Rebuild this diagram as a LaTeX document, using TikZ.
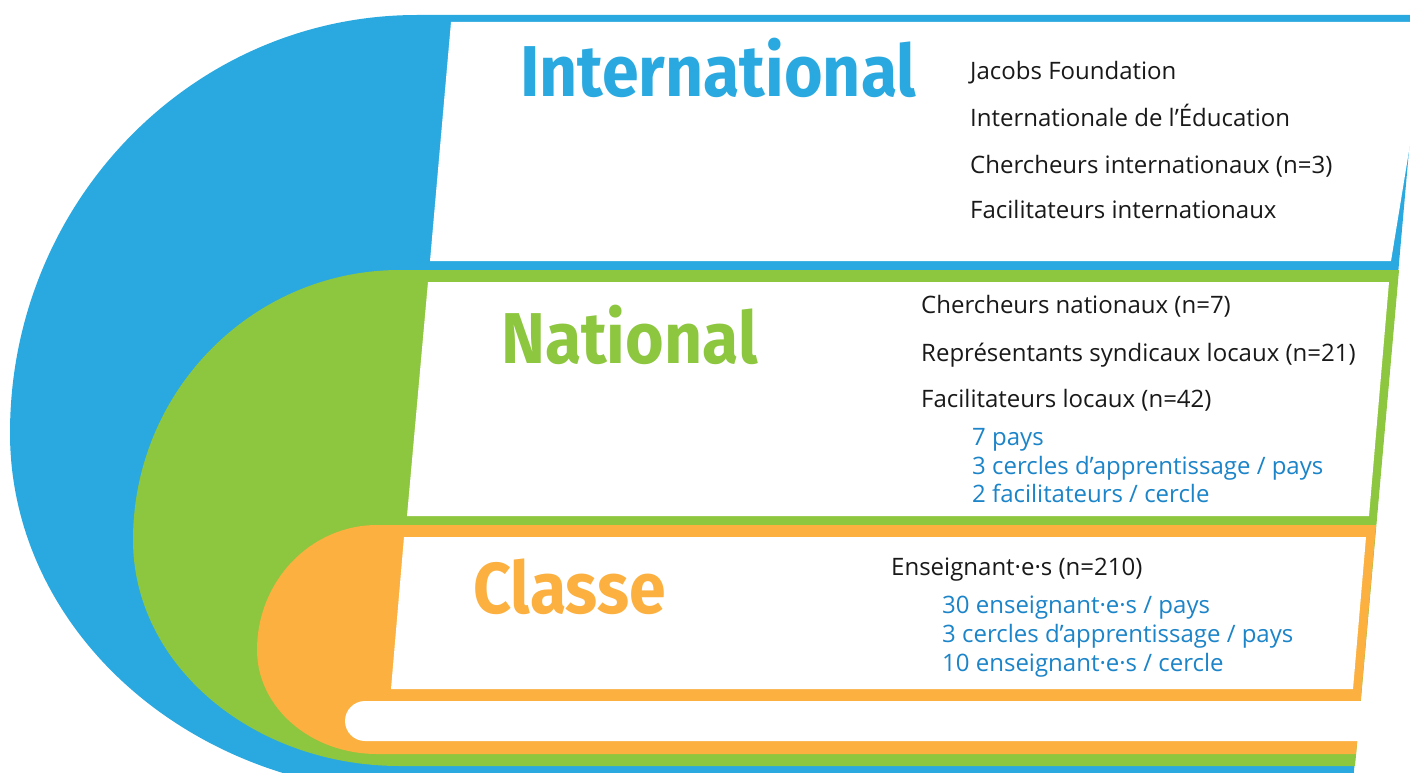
\documentclass[tikz,border=0pt]{standalone}
\usepackage{graphicx}
\usepackage{fontspec}
\setmainfont{Open Sans}
\newfontfamily\titlefont{Fira Sans}
\definecolor{intlblue}{RGB}{41,169,224}
\definecolor{natgreen}{RGB}{141,198,63}
\definecolor{classorange}{RGB}{251,176,64}
\definecolor{subblue}{RGB}{28,132,200}
\newcommand{\leveltext}[1]{\scalebox{0.92}[1]{#1}}

\begin{document}
\begin{tikzpicture}[x=1pt, y=-1pt,
    level/.style={font=\titlefont\bfseries\fontsize{72}{72}\selectfont, anchor=base west, inner sep=0},
    item/.style={font=\fontsize{24}{28}\selectfont, anchor=base west, inner sep=0, text=black!90},
    subitem/.style={item, text=subblue}]
      \useasboundingbox (0,0) rectangle (1410,773);
      \clip (0,0) rectangle (1410,773);

      % coloured bands, outer to inner
      \fill[intlblue] (1421,15) -- (417,15) arc[start angle=270, end angle=180, x radius=407, y radius=418] arc[start angle=180, end angle=90, x radius=407, y radius=360] -- (1352,793) -- cycle;
      \fill[natgreen] (1399,270) -- (400,270) arc[start angle=270, end angle=180, x radius=267, y radius=270] arc[start angle=180, end angle=90, x radius=267, y radius=226] -- (1355,766) -- cycle;
      \fill[classorange] (1376,525) -- (377,525) arc[start angle=270, end angle=180, x radius=120, y radius=125] arc[start angle=180, end angle=90, x radius=120, y radius=104] -- (1356,754) -- cycle;

      % white panels
      \fill[white] (451,22) -- (1430,22) -- (1391,261) -- (430,261) -- cycle;
      \fill[white] (428,282) -- (1389,282) -- (1369,516) -- (407,516) -- cycle;
      \fill[white] (404,537) -- (1366,537) -- (1353,689) -- (391,689) -- cycle;
      \fill[white, rounded corners=20pt] (345,701) rectangle (1480,741);

      \node[level, text=intlblue] (intl) at (520,97) {\leveltext{International}};
      \node[level, text=natgreen] (natl) at (501,363) {\leveltext{National}};
      \node[level, text=classorange] (classe) at (473,613) {\leveltext{Classe}};

      \node[item] (jacobs) at (970,80) {Jacobs Foundation};
      \node[item] (ie) at (970,127) {Internationale de l’Éducation};
      \node[item] (chintl) at (970,173) {Chercheurs internationaux (n=3)};
      \node[item] (facintl) at (970,218) {Facilitateurs internationaux};

      \node[item] (chnat) at (921,313) {Chercheurs nationaux (n=7)};
      \node[item] (rep) at (921,361) {Représentants syndicaux locaux (n=21)};
      \node[item] (facloc) at (921,407) {Facilitateurs locaux (n=42)};
      \node[subitem] (pays) at (972,445) {7 pays};
      \node[subitem] (cercnat) at (972,474) {3 cercles d’apprentissage / pays};
      \node[subitem] (faccer) at (972,502) {2 facilitateurs / cercle};

      \node[item] (ens) at (891,575) {Enseignant·e·s (n=210)};
      \node[subitem] (enspays) at (942,613) {30 enseignant·e·s / pays};
      \node[subitem] (cercens) at (942,642) {3 cercles d’apprentissage / pays};
      \node[subitem] (enscer) at (942,671) {10 enseignant·e·s / cercle};
    \end{tikzpicture}
\end{document}
